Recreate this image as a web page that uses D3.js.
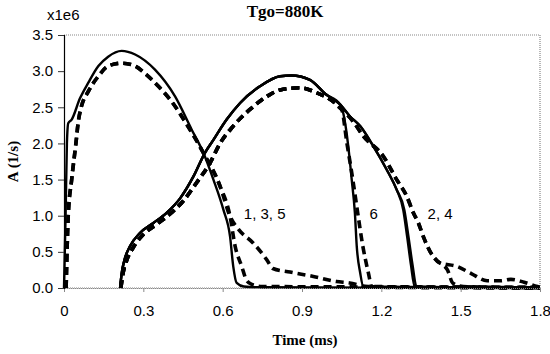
<!DOCTYPE html>
<html>
<head>
<meta charset="utf-8">
<script src="https://cdn.jsdelivr.net/npm/d3@7"></script>
<style>
  body { margin: 0; background: #fff; }
  svg text { fill: #000; }
  .tick text { font-family: "Liberation Sans", Arial, sans-serif; font-size: 15px; }
  .serif { font-family: "Liberation Serif", "Times New Roman", serif; font-weight: bold; }
  .sans { font-family: "Liberation Sans", Arial, sans-serif; font-size: 15px; }
</style>
</head>
<body>
<script>
// tick values
var xTicks = [0, 0.3, 0.6, 0.9, 1.2, 1.5, 1.8];
var yTicks = [0, 0.5, 1.0, 1.5, 2.0, 2.5, 3.0, 3.5];

// first ignition, solid (1)
var t1 = [0, 0.006, 0.011, 0.016, 0.029, 0.06, 0.092, 0.13, 0.167, 0.218, 0.269, 0.344, 0.42, 0.483, 0.527, 0.565, 0.603, 0.628, 0.64, 0.653, 0.68, 0.75, 1.8];
var a1 = [0, 1.0, 2.0, 2.28, 2.33, 2.62, 2.84, 3.07, 3.2, 3.28, 3.23, 3.02, 2.65, 2.19, 1.87, 1.5, 1.08, 0.71, 0.3, 0.07, 0.02, 0.01, 0.0];

// first ignition, dashed (3, 5) - common part
var t3head = [0.008, 0.016, 0.029, 0.045, 0.054, 0.065, 0.092, 0.13, 0.167, 0.218, 0.269, 0.306, 0.357, 0.407, 0.458, 0.527, 0.59, 0.628];
var a3head = [0, 1.0, 1.5, 2.0, 2.3, 2.5, 2.72, 2.93, 3.07, 3.11, 3.07, 2.97, 2.79, 2.58, 2.3, 1.87, 1.41, 0.99];
var t3tail = [0.66, 0.716, 0.767, 0.79, 0.855, 0.943, 1.03, 1.08, 1.15, 1.8];
var a3tail = [0.81, 0.62, 0.39, 0.27, 0.22, 0.16, 0.09, 0.07, 0.02, 0.01];
var t5tail = [0.647, 0.672, 0.69, 0.71, 0.75, 1.8];
var a5tail = [0.58, 0.3, 0.11, 0.05, 0.02, 0.01];

// second ignition, solid - common rise
var tRise = [0.212, 0.218, 0.228, 0.25, 0.287, 0.338, 0.388, 0.439, 0.489, 0.533, 0.565, 0.615, 0.666, 0.741, 0.817, 0.86, 0.93, 0.99, 1.044];
var aRise = [0, 0.2, 0.38, 0.58, 0.76, 0.9, 1.04, 1.24, 1.54, 1.87, 2.05, 2.33, 2.56, 2.79, 2.93, 2.94, 2.88, 2.68, 2.54];
var t6tail = [1.056, 1.075, 1.088, 1.1, 1.107, 1.12, 1.132, 1.18, 1.8];
var a6tail = [2.42, 1.96, 1.5, 1.04, 0.58, 0.21, 0.02, 0.01, 0];
var t2tail = [1.08, 1.12, 1.17, 1.22, 1.258, 1.283, 1.298, 1.312, 1.326, 1.4, 1.8];
var a2tail = [2.38, 2.24, 1.96, 1.64, 1.36, 1.08, 0.7, 0.32, 0.02, 0.01, 0];
var t4tail = [1.08, 1.12, 1.17, 1.22, 1.258, 1.287, 1.303, 1.318, 1.333, 1.4, 1.8];
var a4tail = [2.38, 2.24, 1.96, 1.64, 1.36, 1.08, 0.7, 0.32, 0.02, 0.01, 0];

// second ignition, dashed - common rise
var tRiseD = [0.215, 0.222, 0.235, 0.26, 0.3, 0.35, 0.4, 0.45, 0.5, 0.552, 0.59, 0.64, 0.703, 0.767, 0.817, 0.893, 0.956, 1.006, 1.05];
var aRiseD = [0, 0.18, 0.36, 0.55, 0.74, 0.88, 1.02, 1.2, 1.45, 1.73, 2.0, 2.24, 2.47, 2.65, 2.74, 2.77, 2.7, 2.61, 2.47];
var t6dtail = [1.07, 1.09, 1.107, 1.13, 1.151, 1.164, 1.2, 1.8];
var a6dtail = [2.0, 1.55, 1.13, 0.58, 0.21, 0.02, 0.01, 0];
var t24dmid = [1.09, 1.132, 1.208, 1.258, 1.296, 1.321, 1.34, 1.36, 1.385];
var a24dmid = [2.32, 2.1, 1.82, 1.5, 1.27, 1.04, 0.9, 0.7, 0.5];
var t2dtail = [1.42, 1.485, 1.54, 1.6, 1.65, 1.69, 1.74, 1.79, 1.8];
var a2dtail = [0.35, 0.3, 0.2, 0.1, 0.1, 0.12, 0.08, 0.02, 0.01];
var t4dtail = [1.41, 1.45, 1.47, 1.51, 1.8];
var a4dtail = [0.38, 0.25, 0.07, 0.02, 0.0];

var curveLabels = [
  { text: '1, 3, 5', t: 0.68, a: 0.95 },
  { text: '6', t: 1.155, a: 0.95 },
  { text: '2, 4', t: 1.375, a: 0.95 }
];

function pts(ts, as) {
  return ts.map(function(t, i) { return [t, as[i]]; });
}

var series = [
  { dashed: false, data: pts(t1, a1) },
  { dashed: true, data: pts(t3head.concat(t3tail), a3head.concat(a3tail)) },
  { dashed: true, data: pts(t3head.concat(t5tail), a3head.concat(a5tail)) },
  { dashed: false, data: pts(tRise.concat(t6tail), aRise.concat(a6tail)) },
  { dashed: false, data: pts(tRise.concat(t2tail), aRise.concat(a2tail)) },
  { dashed: false, data: pts(tRise.concat(t4tail), aRise.concat(a4tail)) },
  { dashed: true, data: pts(tRiseD.concat(t6dtail), aRiseD.concat(a6dtail)) },
  { dashed: true, data: pts(tRiseD.concat(t24dmid, t2dtail), aRiseD.concat(a24dmid, a2dtail)) },
  { dashed: true, data: pts(tRiseD.concat(t24dmid, t4dtail), aRiseD.concat(a24dmid, a4dtail)) }
];

var w = 550, h = 354;
var pLeft = 64, pRight = 540, pTop = 35, pBottom = 288;

var x = d3.scaleLinear().domain([0, 1.8]).range([pLeft, pRight]);
var y = d3.scaleLinear().domain([0, 3.5]).range([pBottom, pTop]);

var svg = d3.select('body').append('svg')
  .attr('width', w)
  .attr('height', h);

// frame (top/right/bottom grey)
svg.append('path')
  .attr('d', 'M' + pLeft + ',' + pTop + 'H' + pRight + 'V' + pBottom + 'H' + pLeft)
  .attr('fill', 'none')
  .attr('stroke', '#888')
  .attr('stroke-width', 1.2)
  .attr('stroke-dasharray', '1,1');

var line = d3.line()
  .curve(d3.curveMonotoneX)
  .x(function(d) { return x(d[0]); })
  .y(function(d) { return y(d[1]); });

svg.selectAll('path.curve')
  .data(series)
  .enter()
  .append('path')
  .attr('class', 'curve')
  .attr('d', function(d) { return line(d.data); })
  .attr('fill', 'none')
  .attr('stroke', '#000')
  .attr('stroke-linejoin', 'round')
  .attr('stroke-width', function(d) { return d.dashed ? 3.6 : 2.4; })
  .attr('stroke-dasharray', function(d) { return d.dashed ? '8,5' : null; });

// axes
var xAxis = svg.append('g')
  .attr('transform', 'translate(0,' + pBottom + ')')
  .call(d3.axisBottom(x).tickValues(xTicks).tickSize(4).tickPadding(13)
    .tickFormat(function(d) { return d === 0 ? '0' : d3.format('.1f')(d); }));
xAxis.select('.domain').attr('stroke', '#888').attr('stroke-dasharray', '1,1');
xAxis.selectAll('.tick line').attr('stroke', '#888');

var yAxis = svg.append('g')
  .attr('transform', 'translate(' + pLeft + ',0)')
  .call(d3.axisLeft(y).tickValues(yTicks).tickSize(6).tickPadding(5)
    .tickFormat(d3.format('.1f')));
yAxis.select('.domain').attr('stroke', '#000').attr('stroke-width', 1.2);
yAxis.selectAll('.tick line').attr('stroke', '#333');

// texts
svg.append('text')
  .attr('class', 'serif')
  .attr('x', 285)
  .attr('y', 17)
  .attr('text-anchor', 'middle')
  .style('font-size', '17px')
  .text('Tgo=880K');

svg.append('text')
  .attr('class', 'sans')
  .attr('x', 47)
  .attr('y', 20)
  .text('x1e6');

svg.append('text')
  .attr('class', 'serif')
  .attr('transform', 'translate(18,' + ((pTop + pBottom) / 2) + ') rotate(-90)')
  .attr('text-anchor', 'middle')
  .style('font-size', '15px')
  .text('A (1/s)');

svg.append('text')
  .attr('class', 'serif')
  .attr('x', 305)
  .attr('y', 345)
  .attr('text-anchor', 'middle')
  .style('font-size', '15px')
  .text('Time (ms)');

svg.selectAll('text.clabel')
  .data(curveLabels)
  .enter()
  .append('text')
  .attr('class', 'clabel sans')
  .attr('x', function(d) { return x(d.t); })
  .attr('y', function(d) { return y(d.a); })
  .text(function(d) { return d.text; });
</script>
</body>
</html>
